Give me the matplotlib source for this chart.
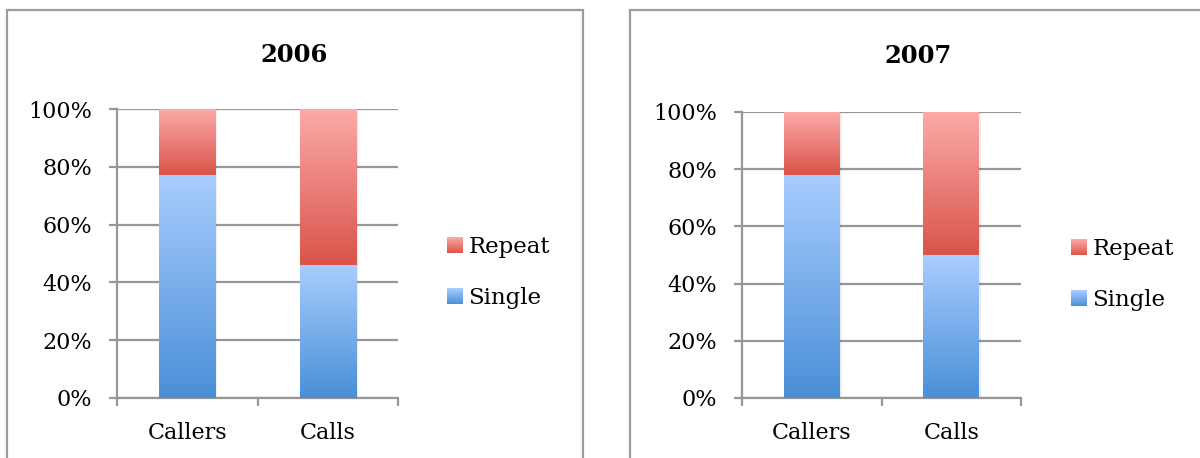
import numpy as np
import matplotlib
matplotlib.use('Agg')
import matplotlib.pyplot as plt
from matplotlib.patches import Rectangle
from matplotlib.colors import LinearSegmentedColormap
from matplotlib.legend_handler import HandlerBase
from matplotlib.ticker import PercentFormatter, FixedLocator
import matplotlib.patheffects as pe

# ---- data ----
categories = ['Callers', 'Calls']
years = ['2006', '2007']
single_2006 = [77, 46]
repeat_2006 = [23, 54]
single_2007 = [78, 50]
repeat_2007 = [22, 50]
yticks = [0, 20, 40, 60, 80, 100]
series_names = ['Repeat', 'Single']

W, H = 1200, 458
plt.rcParams['font.family'] = ['DejaVu Serif']
fig = plt.figure(figsize=(12, 4.58), dpi=100)

GRAY = '#979797'
blue_cmap = LinearSegmentedColormap.from_list('b', ['#4A8FD8', '#A9CDFE'])
red_cmap = LinearSegmentedColormap.from_list('r', ['#D9544A', '#FCAAA8'])


def px_axes(l, r, t, b):
    return fig.add_axes([l / W, (H - b) / H, (r - l) / W, (b - t) / H])


def gradient_fill(ax, patches, cmap):
    grad = np.linspace(0, 1, 256).reshape(-1, 1)
    for p in patches:
        x0, y0 = p.get_x(), p.get_y()
        w, h = p.get_width(), p.get_height()
        im = ax.imshow(grad, cmap=cmap, origin='lower', aspect='auto',
                       extent=[x0, x0 + w, y0, y0 + h],
                       interpolation='bilinear', zorder=3)
        im.set_clip_path(p)


class GradHandler(HandlerBase):
    def __init__(self, cmap):
        super().__init__()
        self.cmap = cmap

    def create_artists(self, legend, orig_handle, xdescent, ydescent,
                       width, height, fontsize, trans):
        n = 24
        arts = []
        for i in range(n):
            r = Rectangle((-xdescent, -ydescent + height * i / n), width,
                          height / n * 1.1, facecolor=self.cmap((i + 0.5) / n),
                          edgecolor='none', transform=trans)
            arts.append(r)
        return arts


def panel(box, axbox, single, repeat, title, title_xy, leg_xy, ylabpad):
    bl, bt, br, bb = box
    fig.patches.append(Rectangle((bl / W, (H - bb) / H), (br - bl) / W, (bb - bt) / H,
                                 transform=fig.transFigure, fill=False,
                                 edgecolor='#9C9C9C', linewidth=1.6, zorder=0))
    ax = px_axes(*axbox)
    x = np.arange(len(categories))
    back = ax.bar(x, [s + r for s, r in zip(single, repeat)], width=0.4,
                  color='white', zorder=2.5)
    for p in back:
        p.set_path_effects([pe.SimplePatchShadow(offset=(1.5, -1.0), shadow_rgbFace='#000000', alpha=0.07),
                            pe.Normal()])
    b1 = ax.bar(x, single, width=0.4, color='none', zorder=3)
    b2 = ax.bar(x, repeat, bottom=single, width=0.4, color='none', zorder=3)
    gradient_fill(ax, b1, blue_cmap)
    gradient_fill(ax, b2, red_cmap)
    ax.set_xlim(-0.5, len(categories) - 0.5)
    ax.set_ylim(0, 100)
    ax.yaxis.set_major_locator(FixedLocator(yticks))
    ax.yaxis.set_major_formatter(PercentFormatter(decimals=0))
    ax.grid(axis='y', color=GRAY, linewidth=1.6, zorder=1)
    ax.set_axisbelow(True)
    for s in ['top', 'right']:
        ax.spines[s].set_visible(False)
    for s in ['left', 'bottom']:
        ax.spines[s].set_color(GRAY)
        ax.spines[s].set_linewidth(1.6)
    ax.set_xticks(x)
    ax.set_xticklabels(categories)
    ax.set_xticks(np.arange(-0.5, len(categories)), minor=True)
    ax.tick_params(axis='x', which='major', length=0, pad=17, labelsize=16)
    ax.tick_params(axis='x', which='minor', length=6, width=1.6, color=GRAY)
    ax.tick_params(axis='y', length=6, width=1.6, color=GRAY, pad=ylabpad, labelsize=16)
    fig.text(title_xy[0] / W, 1 - title_xy[1] / H, title, ha='center', va='center',
             fontsize=17.5, fontweight='bold')
    h_rep = Rectangle((0, 0), 1, 1)
    h_sin = Rectangle((0, 0), 1, 1)
    fig.legend([h_rep, h_sin], series_names,
               handler_map={h_rep: GradHandler(red_cmap), h_sin: GradHandler(blue_cmap)},
               loc='upper left', bbox_to_anchor=(leg_xy[0] / W, 1 - leg_xy[1] / H),
               bbox_transform=fig.transFigure, frameon=False, fontsize=16.5,
               handlelength=0.68, handleheight=0.68, handletextpad=0.25,
               labelspacing=1.27, borderpad=0, borderaxespad=0)
    return ax


panel((7, 10, 583, 470), (117, 398, 109, 398), single_2006, repeat_2006,
      years[0], (294, 55), (447, 236), 12)
panel((630, 10, 1215, 470), (742, 1021, 112, 398), single_2007, repeat_2007,
      years[1], (918, 56), (1071, 238), 12)

fig.savefig('out.png', dpi=100)
